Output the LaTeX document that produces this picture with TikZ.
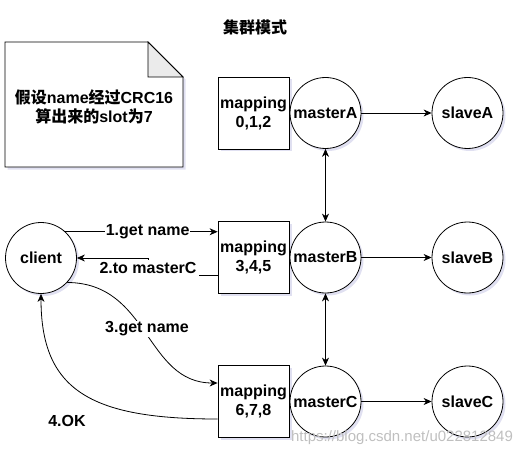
\documentclass[tikz,border=0pt]{standalone}
\usepackage{fontspec}
\setmainfont{Liberation Sans}
\newfontfamily\cjk{Noto Sans CJK SC}
\usetikzlibrary{arrows.meta,shadows}
\begin{document}
\begin{tikzpicture}[x=1pt,y=-1pt,
  base/.style={font=\fontsize{16}{19}\selectfont\bfseries, align=center, inner sep=0pt},
  shd/.style={drop shadow={shadow xshift=2.5pt, shadow yshift=-2.5pt, fill=black!45!blue!40, opacity=0.3}},
  nodecirc/.style={base, circle, draw, line width=0.8pt, minimum size=71pt, fill=white, shd},
  mapbox/.style={base, rectangle, draw, line width=0.8pt, minimum width=71pt, minimum height=72pt, fill=white, shd},
  lbl/.style={base, fill=white, inner sep=1pt},
  arr/.style={line width=0.8pt, -{Stealth[length=8pt,width=7pt,inset=2.5pt]}},
  darr/.style={line width=0.8pt, {Stealth[length=8pt,width=7pt,inset=2.5pt]}-{Stealth[length=8pt,width=7pt,inset=2.5pt]}}]
\useasboundingbox (0,0) rectangle (529,457);

% title
\node[base] (title) at (255,27) {{\cjk 集群模式}};

% note
\fill[black!45!blue!40, opacity=0.3] (7.5,44.5) -- (150.5,44.5) -- (185.5,79.5) -- (185.5,169.5) -- (7.5,169.5) -- cycle;
\draw[line width=0.8pt, fill=white] (5,42) -- (148,42) -- (183,77) -- (183,167) -- (5,167) -- cycle;
\draw[line width=0.8pt, fill=black!8] (148,42) -- (148,77) -- (183,77) -- cycle;
\node[base] (note) at (94,107) {{\cjk 假设}name{\cjk 经过}CRC16\\{\cjk 算出来的}slot{\cjk 为}7};

% mapping boxes
\node[mapbox] (m1) at (253.5,113) {mapping\\0,1,2};
\node[mapbox] (m2) at (253.5,257.5) {mapping\\3,4,5};
\node[mapbox] (m3) at (253.5,401.5) {mapping\\6,7,8};

% masters and slaves
\node[nodecirc] (mA) at (325.5,113) {masterA};
\node[nodecirc] (mB) at (325.5,257.5) {masterB};
\node[nodecirc] (mC) at (325.5,401.5) {masterC};
\node[nodecirc] (sA) at (467.5,113) {slaveA};
\node[nodecirc] (sB) at (467.5,257.5) {slaveB};
\node[nodecirc] (sC) at (467.5,401.5) {slaveC};
\node[nodecirc] (client) at (41,258) {client};

\draw[arr] (mA) -- (sA);
\draw[arr] (mB) -- (sB);
\draw[arr] (mC) -- (sC);
\draw[darr] (mA) -- (mB);
\draw[darr] (mB) -- (mC);

% 1
\draw[arr] (client.47) -- node[lbl, pos=0.54] (l1) {1.get name} (client.47 -| m2.west);
% 2
\coordinate (s2) at ([yshift=-17.5pt]m2.west);
\coordinate (b2) at (148,275);
\draw[arr] (s2) -- (b2) |- (client.east);
\node[lbl, inner sep=2.5pt] (l2) at (148,268) {2.to masterC};
% 3
\draw[arr] (client.-43) .. controls (150,283) and (145,383) .. ([yshift=18.5pt]m3.west);
\node[lbl] (l3) at (147,329) {3.get name};
% 4
\draw[arr] ([yshift=-17.5pt]m3.west) .. controls (90,419) and (41,390) .. (client.south);
\node[lbl] (l4) at (67,421) {4.OK};

% watermark
\node[font=\fontsize{15}{18}\selectfont, text=black!25, inner sep=0pt] (wm) at (402,438) {https://blog.csdn.net/u022812849};
\end{tikzpicture}
\end{document}
